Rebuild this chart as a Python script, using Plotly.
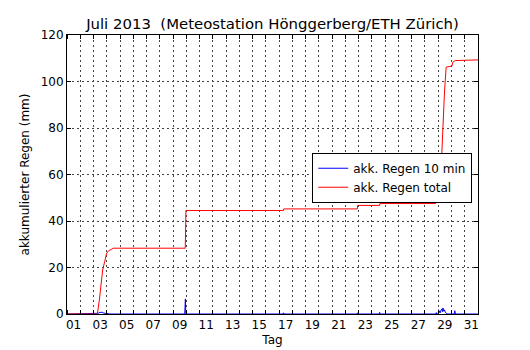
import plotly.graph_objects as go

# x values: day offset from 1 July 00:00 (1.0 = 2 July 00:00)
red_day = [0.0, 2.29, 2.44, 2.59, 2.69, 2.84, 2.99, 3.14, 3.5, 8.92, 8.97, 16.32, 16.34,
           21.90, 21.92, 23.58, 23.60, 27.80, 27.90, 28.08, 28.13, 28.28, 28.35, 28.40,
           28.48, 28.60, 29.03, 29.10, 29.28, 31.0]
red_mm = [0.0, 0.0, 6.0, 13.2, 18.9, 22.5, 26.1, 27.2, 28.3, 28.3, 44.5, 44.5, 45.2,
          45.2, 46.7, 46.7, 47.5, 47.5, 48.7, 50.0, 50.5, 70.5, 80.0, 92.0,
          96.3, 106.2, 106.6, 108.3, 109.0, 109.3]

blue_day = [0.0, 2.28, 2.35, 2.42, 2.50, 2.55, 2.62, 2.70, 2.80, 2.95, 3.10, 3.20,
            8.88, 8.90, 8.93, 8.95, 8.97,
            16.30, 16.33, 16.36, 21.88, 21.91, 21.94, 23.55, 23.58, 23.61,
            27.82, 27.85, 27.88, 28.00, 28.03, 28.06, 28.10, 28.15, 28.20, 28.27,
            28.32, 28.36, 28.42, 28.47, 28.53, 28.60, 28.65,
            29.20, 29.25, 29.30, 30.25, 30.28, 30.31, 31.0]
blue_mm = [0.0, 0.0, 0.3, 0.5, 0.8, 0.4, 0.9, 0.5, 0.3, 0.2, 0.2, 0.0,
           0.0, 2.0, 6.5, 1.5, 0.0,
           0.0, 0.5, 0.0, 0.0, 0.5, 0.0, 0.0, 0.7, 0.0,
           0.0, 0.6, 0.0, 0.0, 1.8, 0.6, 1.2, 0.5, 1.5, 2.2,
           1.0, 2.6, 1.2, 1.8, 0.8, 0.3, 0.0,
           0.0, 1.4, 0.0, 0.0, 0.3, 0.0, 0.0]

tick_pos = [i + 0.5 for i in range(0, 31, 2)]
tick_text = ["%02d" % (i + 1) for i in range(0, 31, 2)]
y_ticks = [0, 20, 40, 60, 80, 100, 120]

title_text = "Juli 2013  (Meteostation Hönggerberg/ETH Zürich)"
FONT = "DejaVu Sans"

W, H = 530, 350
L, R, T, B = 59, 60, 27, 44

fig = go.Figure()
fig.add_trace(go.Scatter(x=blue_day, y=blue_mm, mode="lines", name="akk. Regen 10 min",
                         line=dict(color="#0000ff", width=1)))
fig.add_trace(go.Scatter(x=red_day, y=red_mm, mode="lines", name="akk. Regen total",
                         line=dict(color="#ff0000", width=1)))

grid_dash = "1.5px,3.5px"
fig.update_layout(
    width=W, height=H,
    margin=dict(l=L, r=R, t=T, b=B, autoexpand=False),
    paper_bgcolor="white", plot_bgcolor="white",
    font=dict(family=FONT, size=12, color="black"),
    title=dict(text=title_text, x=(L + (W - R)) / 2 / W, xanchor="center",
               y=1 - 16 / H, yanchor="middle", font=dict(size=14.9, family=FONT)),
    showlegend=True,
    legend=dict(x=0.986, xanchor="right", y=0.578, yanchor="top",
                bgcolor="white", bordercolor="black", borderwidth=1,
                font=dict(size=12, family=FONT), tracegroupgap=0,
                itemwidth=30),
    xaxis=dict(range=[0, 31], tickmode="array", tickvals=tick_pos, ticktext=tick_text,
               ticks="", showgrid=False, zeroline=False,
               showline=True, linecolor="black", linewidth=1, mirror="allticks",
               title=dict(text="Tag", standoff=4, font=dict(size=12)),
               tickfont=dict(size=12),
               minor=dict(tickmode="linear", tick0=0, dtick=1, ticks="inside", ticklen=4,
                          tickcolor="black", showgrid=True, gridcolor="#444444",
                          griddash=grid_dash, gridwidth=1)),
    yaxis=dict(range=[0, 120], tickmode="array", tickvals=y_ticks,
               ticks="inside", ticklen=4, tickcolor="black",
               showgrid=True, gridcolor="#444444", griddash=grid_dash, gridwidth=1,
               zeroline=False, showline=True, linecolor="black", linewidth=1,
               mirror="allticks", tickfont=dict(size=12),
               title=dict(text="akkumulierter Regen (mm)", standoff=8, font=dict(size=12))),
)

fig.write_html("out.html")
